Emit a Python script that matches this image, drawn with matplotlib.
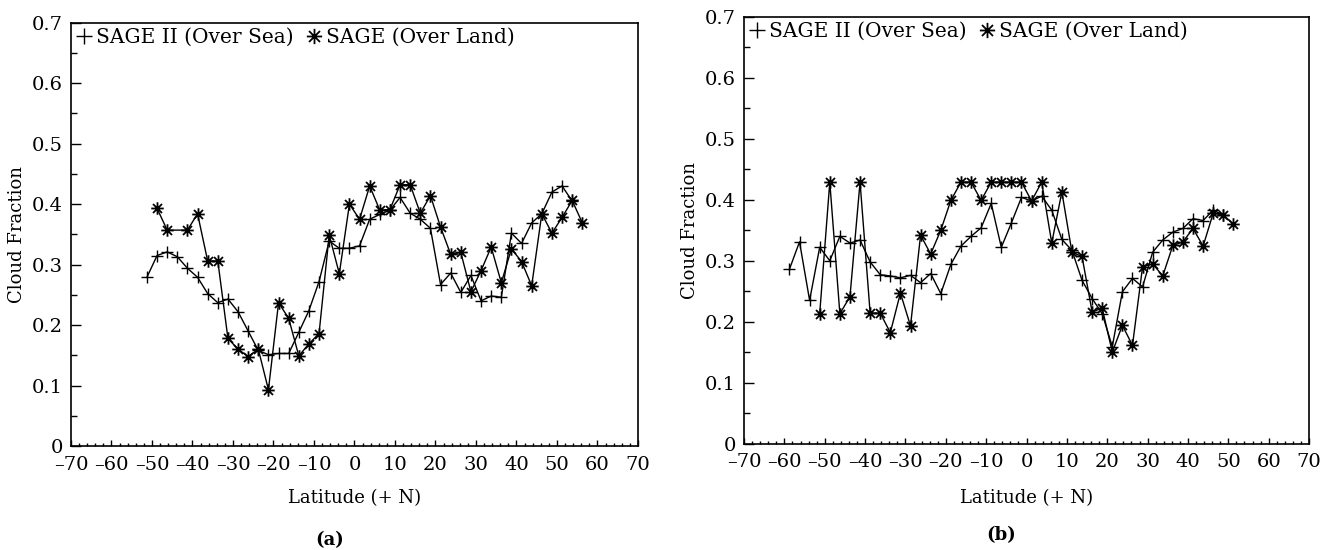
import matplotlib
matplotlib.use("Agg")
import matplotlib.pyplot as plt
from matplotlib.lines import Line2D
from matplotlib.path import Path
from matplotlib.ticker import MultipleLocator, FuncFormatter

# (a) latitudes / cloud fraction
sea_lat_a = [-51.25, -48.75, -46.25, -43.75, -41.25, -38.75, -36.25, -33.75, -31.25, -28.75,
             -26.25, -23.75, -21.25, -18.75, -16.25, -13.75, -11.25, -8.75, -6.25, -3.75,
             -1.25, 1.25, 3.75, 6.25, 8.75, 11.25, 13.75, 16.25, 18.75, 21.25,
             23.75, 26.25, 28.75, 31.25, 33.75, 36.25, 38.75, 41.25, 43.75, 46.25,
             48.75, 51.25, 53.75]
sea_a = [0.279, 0.315, 0.321, 0.313, 0.294, 0.279, 0.252, 0.237, 0.243, 0.222,
         0.190, 0.158, 0.151, 0.153, 0.153, 0.188, 0.224, 0.272, 0.339, 0.327,
         0.327, 0.331, 0.375, 0.383, 0.390, 0.411, 0.385, 0.375, 0.360, 0.267,
         0.286, 0.254, 0.282, 0.240, 0.248, 0.246, 0.352, 0.335, 0.369, 0.384,
         0.420, 0.430, 0.405]

land_lat_a = [-48.75, -46.25, -41.25, -38.75, -36.25, -33.75, -31.25, -28.75, -26.25, -23.75,
              -21.25, -18.75, -16.25, -13.75, -11.25, -8.75, -6.25, -3.75, -1.25, 1.25,
              3.75, 6.25, 8.75, 11.25, 13.75, 16.25, 18.75, 21.25, 23.75, 26.25,
              28.75, 31.25, 33.75, 36.25, 38.75, 41.25, 43.75, 46.25, 48.75, 51.25,
              53.75, 56.25]
land_a = [0.393, 0.357, 0.357, 0.384, 0.306, 0.306, 0.178, 0.160, 0.148, 0.160,
          0.093, 0.237, 0.211, 0.149, 0.169, 0.186, 0.349, 0.285, 0.400, 0.375,
          0.430, 0.390, 0.391, 0.432, 0.432, 0.385, 0.414, 0.362, 0.317, 0.320,
          0.255, 0.290, 0.329, 0.270, 0.326, 0.305, 0.265, 0.384, 0.352, 0.378,
          0.406, 0.369]

# (b)
sea_lat_b = [-58.75, -56.25, -53.75, -51.25, -48.75, -46.25, -43.75, -41.25, -38.75, -36.25,
             -33.75, -31.25, -28.75, -26.25, -23.75, -21.25, -18.75, -16.25, -13.75, -11.25,
             -8.75, -6.25, -3.75, -1.25, 1.25, 3.75, 6.25, 8.75, 11.25, 13.75,
             16.25, 18.75, 21.25, 23.75, 26.25, 28.75, 31.25, 33.75, 36.25, 38.75,
             41.25, 43.75, 46.25, 48.75]
sea_b = [0.286, 0.331, 0.235, 0.322, 0.300, 0.340, 0.329, 0.334, 0.298, 0.277,
         0.275, 0.272, 0.276, 0.264, 0.279, 0.246, 0.294, 0.324, 0.340, 0.354,
         0.394, 0.322, 0.362, 0.404, 0.398, 0.406, 0.383, 0.335, 0.317, 0.268,
         0.238, 0.213, 0.159, 0.249, 0.271, 0.257, 0.314, 0.334, 0.347, 0.353,
         0.369, 0.366, 0.383, 0.375]

land_lat_b = [-51.25, -48.75, -46.25, -43.75, -41.25, -38.75, -36.25, -33.75, -31.25, -28.75,
              -26.25, -23.75, -21.25, -18.75, -16.25, -13.75, -11.25, -8.75, -6.25, -3.75,
              -1.25, 1.25, 3.75, 6.25, 8.75, 11.25, 13.75, 16.25, 18.75, 21.25,
              23.75, 26.25, 28.75, 31.25, 33.75, 36.25, 38.75, 41.25, 43.75, 46.25,
              48.75, 51.25]
land_b = [0.213, 0.429, 0.213, 0.241, 0.429, 0.214, 0.214, 0.182, 0.247, 0.193,
          0.342, 0.311, 0.350, 0.399, 0.429, 0.429, 0.399, 0.429, 0.429, 0.429,
          0.429, 0.398, 0.429, 0.329, 0.413, 0.314, 0.307, 0.216, 0.222, 0.150,
          0.194, 0.161, 0.290, 0.295, 0.275, 0.325, 0.331, 0.353, 0.324, 0.378,
          0.375, 0.360]

plt.rcParams['font.family'] = ['DejaVu Serif']

# asterisk marker like the original plot
star = Path([(-1, 0), (1, 0), (0, -1), (0, 1),
             (-0.72, -0.72), (0.72, 0.72), (-0.72, 0.72), (0.72, -0.72)],
            [Path.MOVETO, Path.LINETO] * 4)

fig = plt.figure(figsize=(13.22, 5.5), dpi=100)
ax1 = fig.add_axes([0.0537, 0.1891, 0.4289, 0.7696])
ax2 = fig.add_axes([0.5628, 0.1936, 0.4274, 0.7755])


def fmt_y(v, pos):
    return '0' if abs(v) < 1e-9 else f'{v:.1f}'


def fmt_x(v, pos):
    v = int(round(v))
    return f'\u2013{abs(v)}' if v < 0 else str(v)


for ax, slat, sval, llat, lval in [(ax1, sea_lat_a, sea_a, land_lat_a, land_a),
                                   (ax2, sea_lat_b, sea_b, land_lat_b, land_b)]:
    ax.plot(slat, sval, color='k', lw=1.0, marker='+', ms=9, mew=1.0)
    ax.plot(llat, lval, color='k', lw=1.0, marker=star, ms=9, mew=1.3, mfc='none')
    ax.set_xlim(-70, 70)
    ax.set_ylim(0, 0.7)
    ax.xaxis.set_major_locator(MultipleLocator(10))
    ax.xaxis.set_minor_locator(MultipleLocator(2))
    ax.yaxis.set_major_locator(MultipleLocator(0.1))
    ax.yaxis.set_minor_locator(MultipleLocator(0.05))
    ax.xaxis.set_major_formatter(FuncFormatter(fmt_x))
    ax.yaxis.set_major_formatter(FuncFormatter(fmt_y))
    ax.tick_params(which='both', direction='in', top=False, right=False, labelsize=14, width=1)
    ax.tick_params(axis='x', which='major', length=4.5, pad=7)
    ax.tick_params(axis='x', which='minor', length=2.2)
    ax.tick_params(axis='y', which='major', length=7, pad=6)
    ax.tick_params(axis='y', which='minor', length=4)
    for s in ax.spines.values():
        s.set_linewidth(1.2)
    ax.set_xlabel('Latitude (+ N)', fontsize=13)
    ax.set_ylabel('Cloud Fraction', fontsize=13)
    ax.xaxis.label.set_va('center')
    ax.yaxis.label.set_va('center')

    handles = [Line2D([], [], color='k', ls='none', marker='+', ms=11, mew=1.0),
               Line2D([], [], color='k', ls='none', marker=star, ms=11, mew=1.3, mfc='none')]
    ax.legend(handles, ['SAGE II (Over Sea)', 'SAGE (Over Land)'], loc='upper left',
              ncol=2, frameon=False, handlelength=0.8, handletextpad=0.2,
              columnspacing=0.6, borderaxespad=0.0, borderpad=0.25, fontsize=14.5)

ax1.xaxis.set_label_coords(0.5, -0.123)
ax1.yaxis.set_label_coords(-0.095, 0.5)
ax2.xaxis.set_label_coords(0.5, -0.128)
ax2.yaxis.set_label_coords(-0.096, 0.5)

fig.text(330 / 1322, 1 - 540 / 550, '(a)', ha='center', va='center', fontsize=13, fontweight='bold')
fig.text(1001 / 1322, 1 - 535 / 550, '(b)', ha='center', va='center', fontsize=13, fontweight='bold')

fig.savefig('out.png', dpi=100)
